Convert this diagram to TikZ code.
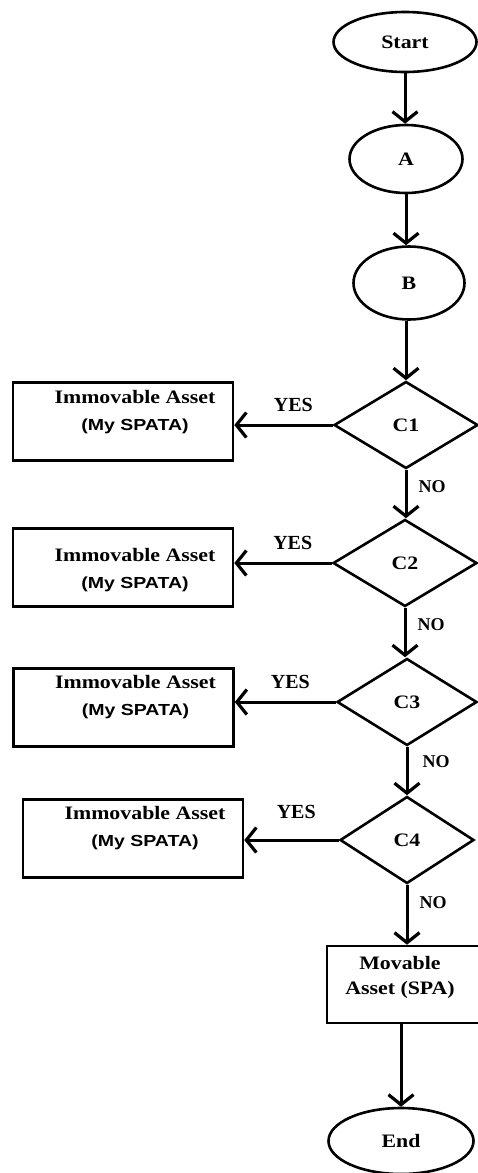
\documentclass[tikz,border=0pt]{standalone}
\usepackage{fontspec}
\setmainfont{Liberation Serif}
\setsansfont{Liberation Sans}
\usetikzlibrary{shapes.geometric,arrows.meta}

% horizontally widened bold serif text
\newcommand{\wide}[1]{\scalebox{1.15}[1]{#1}}
\newcommand{\imm}{\bfseries\wide{Immovable Asset}\\
  {\fontsize{16}{27}\selectfont\sffamily\bfseries\scalebox{1.22}[1]{(My SPATA)}}}

\tikzset{
  base/.style={fill=white, draw=black, line width=2.6pt, inner sep=0pt,
    font=\fontsize{19}{23}\selectfont\bfseries},
  terminal/.style={base, ellipse},
  stepbox/.style={base, rectangle, minimum width=220pt, minimum height=78pt},
  decision/.style={base, diamond, minimum height=87pt},
  flow/.style={line width=3pt, -{Straight Barb[length=10pt,width=25pt,line width=3.2pt]}},
  yes/.style={font=\fontsize{20}{22}\selectfont\bfseries, inner sep=0pt, anchor=south},
  no/.style={font=\fontsize{18}{22}\selectfont\bfseries, inner sep=0pt, anchor=west},
  txt/.style={align=center, inner sep=0pt, font=\fontsize{19}{27}\selectfont}
}

\begin{document}
\begin{tikzpicture}[x=1pt,y=-1pt]
  \useasboundingbox (0,0) rectangle (477,1173);

  % start and preparation steps
  \node[terminal, minimum width=143pt, minimum height=60pt] (start) at (405,42) {\wide{Start}};
  \node[terminal, minimum width=113pt, minimum height=68pt] (a) at (406,159) {\wide{A}};
  \node[terminal, minimum width=111pt, minimum height=73pt] (b) at (409,283) {\wide{B}};

  % decision chain
  \node[decision, minimum width=144pt] (c1) at (406,425) {\wide{C1}};
  \node[decision, minimum width=144pt] (c2) at (405,563) {\wide{C2}};
  \node[decision, minimum width=140pt] (c3) at (407,702) {\wide{C3}};
  \node[decision, minimum width=134pt] (c4) at (407,840) {\wide{C4}};

  % outcome boxes
  \node[stepbox, label={[txt, shift={(12,-9)}]center:\imm}] (r1) at (123,421.5) {};
  \node[stepbox, label={[txt, shift={(12,3)}]center:\imm}] (r2) at (123,567.5) {};
  \node[stepbox, label={[txt, shift={(12,-10)}]center:\imm}] (r3) at (123.5,707.5) {};
  \node[stepbox, label={[txt, shift={(12,-10)}]center:\imm}] (r4) at (133,838.5) {};

  \node[base, rectangle, minimum width=153pt, minimum height=77pt, align=center,
        font=\fontsize{19}{25}\selectfont\bfseries] (mov) at (403.5,984.5)
        {\hspace*{-7pt}\wide{Movable}\\\hspace*{-7pt}\wide{Asset (SPA)}\\[-6pt]};
  \node[terminal, minimum width=145pt, minimum height=66pt] (end) at (401,1141) {\wide{End}};

  % connectors
  \draw[flow] (start.south) -- (start.south |- a.north);
  \draw[flow] (a.south) -- (a.south |- b.north);
  \draw[flow] (b.south -| c1.north) -- (c1.north);

  \draw[flow] (c1.west) -- node[yes, pos=0.4, yshift=12pt] {YES} (c1.west -| r1.east);
  \draw[flow] (c2.west) -- node[yes, pos=0.4, yshift=12pt] {YES} (c2.west -| r2.east);
  \draw[flow] (c3.west) -- node[yes, pos=0.45, yshift=12pt] {YES} (c3.west -| r3.east);
  \draw[flow] (c4.west) -- node[yes, pos=0.45, yshift=20pt] {YES} (c4.west -| r4.east);

  \draw[flow] (c1.south) -- node[no, pos=0.35, xshift=11pt] {NO} (c1.south |- c2.north);
  \draw[flow] (c2.south) -- node[no, pos=0.35, xshift=11pt] {NO} (c2.south |- c3.north);
  \draw[flow] (c3.south) -- node[no, pos=0.3, xshift=14pt] {NO} (c4.north);
  \draw[flow] (c4.south) -- node[no, pos=0.3, xshift=11pt] {NO} (c4.south |- mov.north);
  \draw[flow] (mov.south -| end.north) -- (end.north);
\end{tikzpicture}
\end{document}
